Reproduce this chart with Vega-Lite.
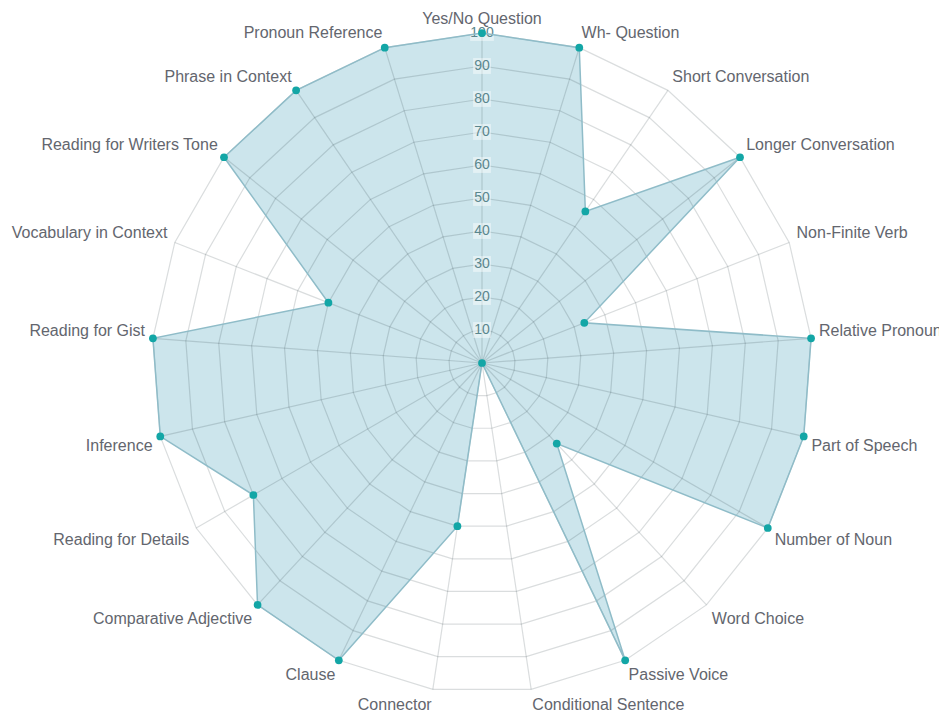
{
  "$schema": "https://vega.github.io/schema/vega-lite/v6.json",
  "autosize": {"type": "none"},
  "padding": {"left": 152, "top": 33, "right": 127, "bottom": 18},
  "width": 660,
  "height": 660,
  "background": "white",
  "config": {"view": {"stroke": null}, "font": "Liberation Sans"},
  "data": {
    "values": [
      {"skill": "Yes/No Question", "score": 100},
      {"skill": "Wh- Question", "score": 100},
      {"skill": "Short Conversation", "score": 55.6},
      {"skill": "Longer Conversation", "score": 100},
      {"skill": "Non-Finite Verb", "score": 33.3},
      {"skill": "Relative Pronoun", "score": 100},
      {"skill": "Part of Speech", "score": 100},
      {"skill": "Number of Noun", "score": 100},
      {"skill": "Word Choice", "score": 33.3},
      {"skill": "Passive Voice", "score": 100},
      {"skill": "Conditional Sentence", "score": 0},
      {"skill": "Connector", "score": 50},
      {"skill": "Clause", "score": 100},
      {"skill": "Comparative Adjective", "score": 100},
      {"skill": "Reading for Details", "score": 80},
      {"skill": "Inference", "score": 100},
      {"skill": "Reading for Gist", "score": 100},
      {"skill": "Vocabulary in Context", "score": 50},
      {"skill": "Reading for Writers Tone", "score": 100},
      {"skill": "Phrase in Context", "score": 100},
      {"skill": "Pronoun Reference", "score": 100}
    ]
  },
  "transform": [
    {"window": [{"op": "row_number", "as": "idx"}]},
    {"calculate": "(datum.idx - 1) * 2 * PI / 21", "as": "ang"},
    {"calculate": "datum.score * sin(datum.ang)", "as": "px"},
    {"calculate": "datum.score * cos(datum.ang)", "as": "py"},
    {"calculate": "102.4 * sin(datum.ang)", "as": "lx"},
    {"calculate": "102.4 * cos(datum.ang)", "as": "ly"},
    {"calculate": "100 * sin(datum.ang)", "as": "sx"},
    {"calculate": "100 * cos(datum.ang)", "as": "sy"}
  ],
  "layer": [
    {
      "mark": {"type": "line", "interpolate": "linear-closed", "fill": "#7fbfcf", "fillOpacity": 0.4, "strokeWidth": 0},
      "encoding": {
        "x": {"field": "px", "type": "quantitative", "scale": {"domain": [-100, 100], "nice": false, "zero": false}, "axis": null},
        "y": {"field": "py", "type": "quantitative", "scale": {"domain": [-100, 100], "nice": false, "zero": false}, "axis": null},
        "order": {"field": "idx", "type": "quantitative"}
      }
    },
    {
      "transform": [
        {"calculate": "[10,20,30,40,50,60,70,80,90,100]", "as": "lv"},
        {"flatten": ["lv"]},
        {"calculate": "datum.lv * sin(datum.ang)", "as": "gx"},
        {"calculate": "datum.lv * cos(datum.ang)", "as": "gy"}
      ],
      "mark": {"type": "line", "interpolate": "linear-closed", "color": "#1a2a33", "strokeOpacity": 0.16, "strokeWidth": 1.2},
      "encoding": {
        "x": {"field": "gx", "type": "quantitative"},
        "y": {"field": "gy", "type": "quantitative"},
        "detail": {"field": "lv"},
        "order": {"field": "idx", "type": "quantitative"}
      }
    },
    {
      "mark": {"type": "rule", "color": "#1a2a33", "strokeOpacity": 0.16, "strokeWidth": 1.2},
      "encoding": {
        "x": {"field": "sx", "type": "quantitative"},
        "y": {"field": "sy", "type": "quantitative"},
        "x2": {"datum": 0},
        "y2": {"datum": 0}
      }
    },
    {
      "transform": [
        {"filter": "datum.idx == 1"},
        {"calculate": "[10,20,30,40,50,60,70,80,90,100]", "as": "lv"},
        {"flatten": ["lv"]},
        {"calculate": "datum.lv == 100 ? -3.6 : -2.7", "as": "bx1"},
        {"calculate": "datum.lv == 100 ? 3.6 : 2.7", "as": "bx2"},
        {"calculate": "datum.lv - 2.4", "as": "by1"},
        {"calculate": "datum.lv + 2.4", "as": "by2"}
      ],
      "mark": {"type": "rect", "color": "white", "opacity": 0.45},
      "encoding": {
        "x": {"field": "bx1", "type": "quantitative"},
        "x2": {"field": "bx2"},
        "y": {"field": "by1", "type": "quantitative"},
        "y2": {"field": "by2"}
      }
    },
    {
      "transform": [
        {"filter": "datum.idx == 1"},
        {"calculate": "[10,20,30,40,50,60,70,80,90,100]", "as": "lv"},
        {"flatten": ["lv"]}
      ],
      "mark": {"type": "text", "fontSize": 14, "color": "#5a868d", "baseline": "middle", "align": "center"},
      "encoding": {
        "x": {"datum": 0, "type": "quantitative"},
        "y": {"field": "lv", "type": "quantitative"},
        "text": {"field": "lv", "type": "quantitative"}
      }
    },
    {
      "mark": {"type": "line", "interpolate": "linear-closed", "stroke": "#8fbcc8", "strokeWidth": 1.5},
      "encoding": {
        "x": {"field": "px", "type": "quantitative"},
        "y": {"field": "py", "type": "quantitative"},
        "order": {"field": "idx", "type": "quantitative"}
      }
    },
    {
      "mark": {"type": "point", "filled": true, "color": "#13a6a6", "size": 60, "opacity": 1},
      "encoding": {
        "x": {"field": "px", "type": "quantitative"},
        "y": {"field": "py", "type": "quantitative"}
      }
    },
    {
      "transform": [{"filter": "datum.idx == 1"}],
      "mark": {"type": "text", "fontSize": 16, "color": "#63666e", "align": "center", "baseline": "middle", "dy": -6},
      "encoding": {
        "x": {"field": "lx", "type": "quantitative"},
        "y": {"field": "ly", "type": "quantitative"},
        "text": {"field": "skill"}
      }
    },
    {
      "transform": [{"filter": "datum.idx >= 2 && datum.idx <= 6"}],
      "mark": {"type": "text", "fontSize": 16, "color": "#63666e", "align": "left", "baseline": "middle", "dy": -7},
      "encoding": {
        "x": {"field": "lx", "type": "quantitative"},
        "y": {"field": "ly", "type": "quantitative"},
        "text": {"field": "skill"}
      }
    },
    {
      "transform": [{"filter": "datum.idx >= 7 && datum.idx <= 11"}],
      "mark": {"type": "text", "fontSize": 16, "color": "#63666e", "align": "left", "baseline": "middle", "dy": 8},
      "encoding": {
        "x": {"field": "lx", "type": "quantitative"},
        "y": {"field": "ly", "type": "quantitative"},
        "text": {"field": "skill"}
      }
    },
    {
      "transform": [{"filter": "datum.idx >= 12 && datum.idx <= 16"}],
      "mark": {"type": "text", "fontSize": 16, "color": "#63666e", "align": "right", "baseline": "middle", "dy": 8},
      "encoding": {
        "x": {"field": "lx", "type": "quantitative"},
        "y": {"field": "ly", "type": "quantitative"},
        "text": {"field": "skill"}
      }
    },
    {
      "transform": [{"filter": "datum.idx >= 17"}],
      "mark": {"type": "text", "fontSize": 16, "color": "#63666e", "align": "right", "baseline": "middle", "dy": -7},
      "encoding": {
        "x": {"field": "lx", "type": "quantitative"},
        "y": {"field": "ly", "type": "quantitative"},
        "text": {"field": "skill"}
      }
    }
  ]
}
